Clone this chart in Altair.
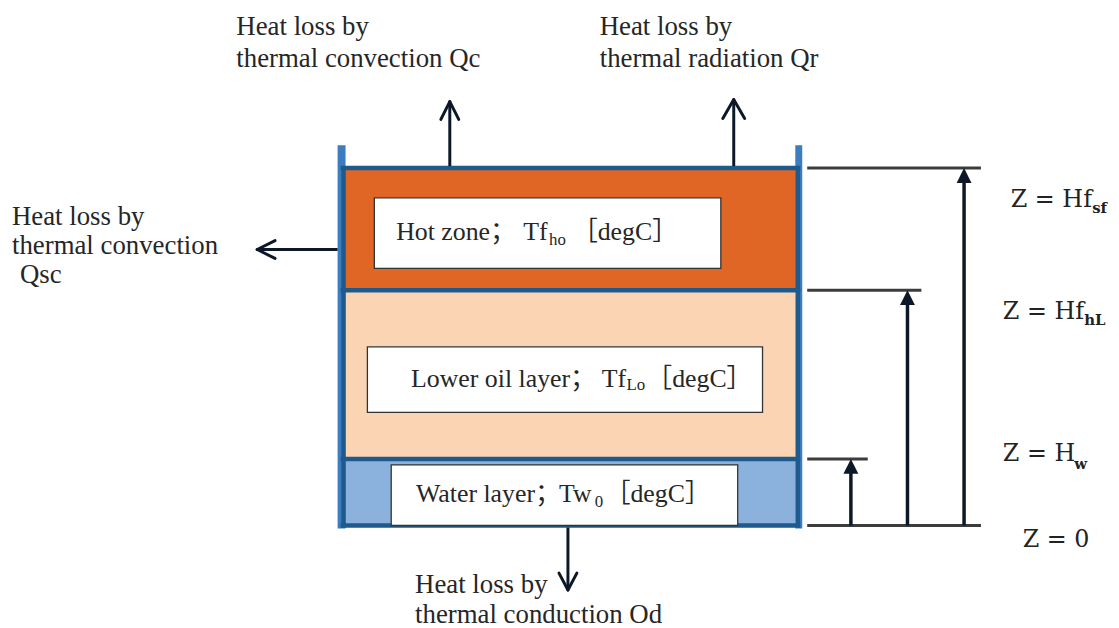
import altair as alt
import pandas as pd

# ---------------- diagram data (pixel geometry of the schematic) ----------------
# tank layers
zone_names = ["Hot zone", "Lower oil layer", "Water layer"]
zone_left = [347, 347, 347]
zone_right = [803, 803, 803]
zone_top = [168, 290, 460]
zone_bottom = [290, 460, 527]
zone_colors = ["#e06626", "#fbd4b4", "#8bb2dc"]

# outer (light blue) tank walls
wall_left = [340, 801]
wall_right = [348, 808]
wall_top = [144, 144]
wall_bottom = [530, 530]

# dark blue frame / layer interfaces
frame_x1 = [343, 343, 343, 343, 346, 803.5]
frame_x2 = [806, 806, 806, 806, 346, 803.5]
frame_y1 = [167, 290, 460, 527, 165, 165]
frame_y2 = [167, 290, 460, 527, 529, 529]

# white label boxes
box_left = [377, 370, 394]
box_right = [726, 768, 743]
box_top = [197, 347, 466]
box_bottom = [268, 413, 527]

# height reference lines on the right
dim_x1 = [813, 813, 813, 813]
dim_x2 = [988, 928, 874, 988]
dim_y = [167, 290, 460, 527]

# height arrows (shafts) and their heads
harrow_x = [971, 914, 857]
harrow_top = [180, 302, 472]
harrow_bottom = [527, 527, 527]
harrow_tip = [167, 290, 460]

# heat-loss arrows: shafts
shaft_x1 = [453, 739, 340, 572]
shaft_y1 = [165, 165, 249, 529]
shaft_x2 = [453, 739, 260, 572]
shaft_y2 = [101, 99, 249, 591]
# heat-loss arrows: open heads (two wings each)
wing_x1 = [453, 453, 739, 739, 259, 259, 572, 572]
wing_y1 = [100, 100, 98, 98, 249, 249, 592, 592]
wing_x2 = [444, 462, 728, 750, 277, 277, 563, 581]
wing_y2 = [118, 118, 117, 117, 240, 258, 575, 575]

# outer annotation texts
note_text = ["Heat loss by", "thermal convection Qc",
             "Heat loss by", "thermal radiation Qr",
             "Heat loss by", "thermal convection", "Qsc",
             "Heat loss by", "thermal conduction Od"]
note_x = [238, 238, 604, 604, 12, 12, 20, 418, 418]
note_y = [33, 65, 33, 65, 224, 254, 283, 595, 625]

# texts inside the label boxes
box_text = ["Hot zone；", "Tf", "［degC］",
            "Lower oil layer；", "Tf", "［degC］",
            "Water layer；", "Tw", "［degC］"]
box_text_x = [399, 527, 576,
              414, 606, 651,
              419, 563, 609]
box_text_y = [239, 239, 239, 387, 387, 387, 503, 503, 503]

sub_text = ["ho", "Lo", "0"]
sub_x = [553, 631, 599]
sub_y = [244, 391, 508]

# height labels
math_text = ["Z = Hf", "Z = Hf", "Z = H", "Z = 0"]
math_x = [1018, 1010, 1010, 1030]
math_y = [206, 319, 462, 549]
msub_text = ["sf", "hL", "w"]
msub_x = [1100, 1092, 1082]
msub_y = [212, 325, 470]

# ---------------- chart ----------------
W, H = 1111, 620
xs = alt.Scale(domain=[8, 8 + W], nice=False, zero=False)
ys = alt.Scale(domain=[8, 8 + H], reverse=True, nice=False, zero=False)


def xq(f):
    return alt.X(f"{f}:Q", scale=xs, axis=None)


def yq(f):
    return alt.Y(f"{f}:Q", scale=ys, axis=None)


walls = alt.Chart(pd.DataFrame({"x": wall_left, "x2": wall_right, "y": wall_top, "y2": wall_bottom})).mark_rect(
    color="#3b7dc0").encode(x=xq("x"), x2="x2:Q", y=yq("y"), y2="y2:Q")

zones = alt.Chart(pd.DataFrame({"zone": zone_names, "x": zone_left, "x2": zone_right,
                                "y": zone_top, "y2": zone_bottom, "c": zone_colors})).mark_rect().encode(
    x=xq("x"), x2="x2:Q", y=yq("y"), y2="y2:Q", color=alt.Color("c:N", scale=None))

frame = alt.Chart(pd.DataFrame({"x": frame_x1, "x2": frame_x2, "y": frame_y1, "y2": frame_y2})).mark_rule(
    color="#1f5a8d", strokeWidth=4.5).encode(x=xq("x"), x2="x2:Q", y=yq("y"), y2="y2:Q")

boxes = alt.Chart(pd.DataFrame({"x": box_left, "x2": box_right, "y": box_top, "y2": box_bottom})).mark_rect(
    fill="white", stroke="#333333", strokeWidth=1.3).encode(x=xq("x"), x2="x2:Q", y=yq("y"), y2="y2:Q")

dims = alt.Chart(pd.DataFrame({"x": dim_x1, "x2": dim_x2, "y": dim_y})).mark_rule(
    color="#3c3c3c", strokeWidth=3).encode(x=xq("x"), x2="x2:Q", y=yq("y"))

hshafts = alt.Chart(pd.DataFrame({"x": harrow_x, "y": harrow_top, "y2": harrow_bottom})).mark_rule(
    color="#0c1828", strokeWidth=3.5).encode(x=xq("x"), y=yq("y"), y2="y2:Q")

hheads = alt.Chart(pd.DataFrame({"x": harrow_x, "y": [t + 7.5 for t in harrow_tip]})).mark_point(
    shape="M0,-1L-1,1L1,1Z", filled=True, opacity=1, size=225, color="#0c1828").encode(x=xq("x"), y=yq("y"))

shafts = alt.Chart(pd.DataFrame({"x": shaft_x1, "x2": shaft_x2, "y": shaft_y1, "y2": shaft_y2})).mark_rule(
    color="#0c1828", strokeWidth=3).encode(x=xq("x"), x2="x2:Q", y=yq("y"), y2="y2:Q")

wings = alt.Chart(pd.DataFrame({"x": wing_x1, "x2": wing_x2, "y": wing_y1, "y2": wing_y2})).mark_rule(
    color="#0c1828", strokeWidth=3, strokeCap="round").encode(x=xq("x"), x2="x2:Q", y=yq("y"), y2="y2:Q")

SERIF = "Liberation Serif, Noto Sans CJK SC"
notes = alt.Chart(pd.DataFrame({"t": note_text, "x": note_x, "y": note_y})).mark_text(
    font=SERIF, fontSize=27, align="left", baseline="alphabetic", color="#262626").encode(
    x=xq("x"), y=yq("y"), text="t:N")

btexts = alt.Chart(pd.DataFrame({"t": box_text, "x": box_text_x, "y": box_text_y})).mark_text(
    font=SERIF, fontSize=26, align="left", baseline="alphabetic", color="#262626").encode(
    x=xq("x"), y=yq("y"), text="t:N")

subs = alt.Chart(pd.DataFrame({"t": sub_text, "x": sub_x, "y": sub_y})).mark_text(
    font=SERIF, fontSize=17, align="left", baseline="alphabetic", color="#262626").encode(
    x=xq("x"), y=yq("y"), text="t:N")

maths = alt.Chart(pd.DataFrame({"t": math_text, "x": math_x, "y": math_y})).mark_text(
    font="DejaVu Serif", fontSize=24, align="left", baseline="alphabetic", color="#222222").encode(
    x=xq("x"), y=yq("y"), text="t:N")

msubs = alt.Chart(pd.DataFrame({"t": msub_text, "x": msub_x, "y": msub_y})).mark_text(
    font="DejaVu Serif", fontSize=15, fontWeight="bold", align="left", baseline="alphabetic",
    color="#222222").encode(x=xq("x"), y=yq("y"), text="t:N")

chart = alt.layer(walls, zones, frame, boxes, dims, hshafts, hheads, shafts, wings,
                  notes, btexts, subs, maths, msubs).properties(
    width=W, height=H, autosize=alt.AutoSizeParams(type="none"), padding=0
).configure_view(stroke=None)

chart.save("out.html", embed_options={"renderer": "svg", "actions": False})
